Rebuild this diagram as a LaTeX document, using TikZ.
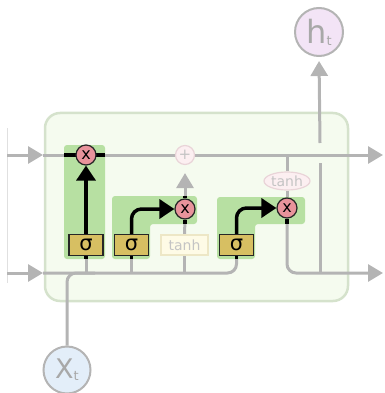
\documentclass[tikz,border=0pt]{standalone}
\usepackage{fontspec}
\setmainfont{DejaVu Sans}
\usepackage{tikz}
\usetikzlibrary{arrows.meta,shapes.geometric}

\definecolor{linegray}{HTML}{B4B4B4}
\definecolor{cellfill}{HTML}{F5FBEF}
\definecolor{celledge}{HTML}{D5E2CC}
\definecolor{gategreen}{HTML}{B7E0A2}
\definecolor{sigfill}{HTML}{D7BF62}
\definecolor{mulfill}{HTML}{E8939B}
\definecolor{fadefill}{HTML}{FCEFF1}
\definecolor{fadeedge}{HTML}{E9D4D8}
\definecolor{tanhfill}{HTML}{FEFBE6}
\definecolor{tanhedge}{HTML}{EDE7C6}
\definecolor{fadetext}{HTML}{C4C4C4}
\definecolor{hfill}{HTML}{F3E4F6}
\definecolor{xfill}{HTML}{E3EEF9}
\definecolor{iotext}{HTML}{A8A8A8}

\pgfdeclarelayer{back}
\pgfdeclarelayer{pipes}
\pgfsetlayers{back,pipes,main}

\begin{document}
\begin{tikzpicture}[x=1pt,y=-1pt,every node/.style={inner sep=0pt,font=\fontsize{13}{13}\selectfont},
  pipe/.style={draw=linegray,line width=3pt},
  wire/.style={draw=black,line width=3.5pt},
  gtip/.style={-{Triangle[length=15pt,width=17pt]}},
  btip/.style={-{Triangle[length=15pt,width=19pt]}},
  gatebg/.style={fill=gategreen,rounded corners=3pt},
  sigbox/.style={draw=black!85,line width=1.2pt,fill=sigfill,minimum width=34pt,minimum height=21pt,font=\fontsize{21}{21}\selectfont},
  mulop/.style={circle,draw=black!85,line width=1.2pt,fill=mulfill,minimum size=20pt,font=\fontsize{16}{16}\selectfont},
  addop/.style={circle,draw=fadeedge,line width=1.2pt,fill=fadefill,minimum size=19pt,text=fadetext,font=\fontsize{15}{15}\selectfont},
  tanhbox/.style={draw=tanhedge,line width=1.2pt,fill=tanhfill,minimum width=47pt,minimum height=20pt,text=fadetext,font=\fontsize{14}{14}\selectfont},
  tanhell/.style={ellipse,draw=fadeedge,line width=1.2pt,fill=fadefill,minimum width=46pt,minimum height=18pt,text=fadetext,font=\fontsize{14}{14}\selectfont},
  iocirc/.style={circle,draw=linegray,line width=2pt,text=iotext}]
  \useasboundingbox (0,0) rectangle (384,393);
  % cell body
  \begin{pgfonlayer}{back}
  \draw[draw=celledge,fill=cellfill,line width=2.5pt,rounded corners=15pt] (45,113) rectangle (348,301);
  \draw[draw=black!12,line width=0.8pt] (7,128) -- (7,283);
  % gate highlights
  \fill[gatebg] (64,145) rectangle (105,259);
  \fill[gatebg] (112,196) -- (197,196) -- (197,224) -- (150,224) -- (150,259) -- (112,259) -- cycle;
  \fill[gatebg] (217,197) -- (305,197) -- (305,224) -- (255,224) -- (255,259) -- (217,259) -- cycle;
  \end{pgfonlayer}
  % gates and operations
  \node[sigbox] (fsig) at (86,245) {σ};
  \node[sigbox] (isig) at (131.5,245) {σ};
  \node[tanhbox] (ctanh) at (184.5,245) {tanh};
  \node[sigbox] (osig) at (236.5,245) {σ};
  \node[mulop] (fmul) at (86,155) {x};
  \node[mulop] (imul) at (185,209) {x};
  \node[addop] (cadd) at (185,155) {+};
  \node[tanhell] (htanh) at (287,181) {tanh};
  \node[mulop] (omul) at (287,208) {x};
  \node[iocirc,fill=hfill,minimum size=48pt,font=\fontsize{32}{32}\selectfont] (ht) at (319,32) {h\raisebox{-2pt}{\fontsize{13}{13}\selectfont t}};
  \node[iocirc,fill=xfill,minimum size=47pt,font=\fontsize{27}{27}\selectfont] (xt) at (67,370) {X\raisebox{-2pt}{\fontsize{13}{13}\selectfont t}};
  % free ends
  \coordinate (cin) at (7,155);
  \coordinate (cedge) at (43,155);
  \coordinate (cout) at (383,155);
  \coordinate (hin) at (7,273);
  \coordinate (hedge) at (43,273);
  \coordinate (hout) at (383,273);
  \coordinate (xmerge) at (95,273);
  \coordinate (hup) at (320,273);
  \coordinate (jumplo) at (320,163);
  \coordinate (jumphi) at (320,143);
  \coordinate (fl) at (64,155);
  \coordinate (fr) at (105,155);
  \coordinate (igtop) at (185,196);
  \coordinate (igmid) at (185,224);
  \coordinate (ogmid) at (287,224);
  \coordinate (gbot) at (0,259);
  \begin{pgfonlayer}{pipes}
  % gray pipes
  \draw[pipe,gtip] (cin) -- (cedge);
  \draw[pipe,gtip] (cedge) -- (cout);
  \draw[pipe,gtip] (hin) -- (hedge);
  \draw[pipe,rounded corners=9pt] (hedge) -| (osig.south);
  \draw[pipe,rounded corners=9pt] (xt.north) |- (xmerge);
  \draw[pipe] (fsig.south) -- (fsig.south |- hedge);
  \draw[pipe] (isig.south) -- (isig.south |- hedge);
  \draw[pipe] (ctanh.south) -- (ctanh.south |- hedge);
  \draw[pipe] (ctanh.north) -- (imul.south);
  \draw[pipe,gtip,shorten >=8pt] (imul.north) -- (cadd.south);
  \draw[pipe] (htanh.north |- cedge) -- (htanh.north);
  \draw[pipe] (htanh.south) -- (omul.north);
  \draw[pipe,gtip,rounded corners=9pt] (omul.south) |- (hout);
  \draw[pipe] (hup) -- (jumplo);
  \draw[pipe,gtip,shorten >=4pt] (jumphi) -- (ht.south);
  % black wires
  \draw[wire,line width=4pt] (fl) -- (fr);
  \draw[wire,btip] (fsig.north) -- (fmul.south);
  \draw[wire,btip,rounded corners=10pt] (isig.north) |- (imul.west);
  \draw[wire,btip,rounded corners=10pt] (osig.north) |- (omul.west);
  \draw[wire] (imul.north) -- (igtop);
  \draw[wire] (imul.south) -- (igmid);
  \draw[wire] (omul.south) -- (ogmid);
  \draw[wire] (fsig.south) -- (fsig.south |- gbot);
  \draw[wire] (isig.south) -- (isig.south |- gbot);
  \draw[wire] (osig.south) -- (osig.south |- gbot);
  \end{pgfonlayer}
\end{tikzpicture}
\end{document}
